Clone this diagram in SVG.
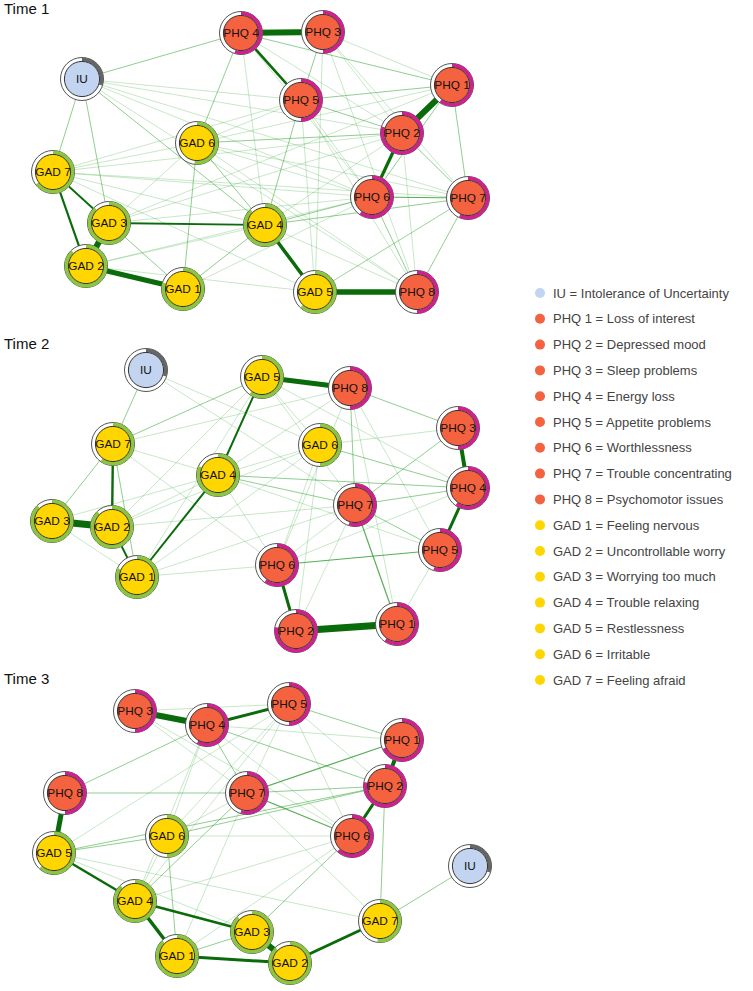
<svg xmlns="http://www.w3.org/2000/svg" width="753" height="991" viewBox="0 0 753 991">
<style>
.bg{fill:#fff}
.title{font-family:"Liberation Sans",Arial,sans-serif;font-size:15px;fill:#111}
.leg{font-family:"Liberation Sans",Arial,sans-serif;font-size:13px;fill:#444}
.node text{font-family:"Liberation Sans",Arial,sans-serif;font-size:11.8px;fill:#111;text-anchor:middle}
.o{fill:#fff;stroke:#555;stroke-width:1}
.p{fill:none;stroke-width:3.6;transform:rotate(-90deg)}
.pp{stroke:#d0208f}
.pg{stroke:#8cc63e}
.pi{stroke:#666}
.i{stroke:#333;stroke-width:1}
.phq{fill:#f4623f}
.gad{fill:#ffd600}
.iu{fill:#c2d4ef}
#edges line{stroke-linecap:butt}
.w1{stroke:#3aa83a;stroke-opacity:.28;stroke-width:1}
.w2{stroke:#35a535;stroke-opacity:.55;stroke-width:1}
.w3{stroke:#2a9a2a;stroke-opacity:.8;stroke-width:1.2}
.s{stroke:#0a6b0a}
</style>
<rect class="bg" width="753" height="991"/>
<text class="title" x="4" y="14">Time 1</text>
<text class="title" x="4" y="349">Time 2</text>
<text class="title" x="4" y="684">Time 3</text>

<g id="edges">
<!-- Time 1 -->
<g id="edges-t1">
<line class="w1" x1="82" y1="79" x2="301" y2="100"/>
<line class="w1" x1="82" y1="79" x2="402" y2="133"/>
<line class="w1" x1="82" y1="79" x2="468" y2="198"/>
<line class="w1" x1="82" y1="79" x2="372" y2="197"/>
<line class="w1" x1="82" y1="79" x2="417" y2="292"/>
<line class="w2" x1="82" y1="79" x2="265" y2="225"/>
<line class="w2" x1="82" y1="79" x2="109" y2="223"/>
<line class="w2" x1="82" y1="79" x2="53" y2="172"/>
<line class="w2" x1="82" y1="79" x2="241" y2="33"/>
<line class="w2" x1="241" y1="33" x2="197" y2="143"/>
<line class="w2" x1="241" y1="33" x2="452" y2="85"/>
<line class="w1" x1="241" y1="33" x2="265" y2="225"/>
<line class="w1" x1="241" y1="33" x2="372" y2="197"/>
<line class="w1" x1="241" y1="33" x2="402" y2="133"/>
<line class="w2" x1="323" y1="32" x2="301" y2="100"/>
<line class="w1" x1="323" y1="32" x2="452" y2="85"/>
<line class="w1" x1="323" y1="32" x2="468" y2="198"/>
<line class="w1" x1="323" y1="32" x2="417" y2="292"/>
<line class="w1" x1="323" y1="32" x2="315" y2="292"/>
<line class="w1" x1="323" y1="32" x2="402" y2="133"/>
<line class="w2" x1="301" y1="100" x2="452" y2="85"/>
<line class="w2" x1="301" y1="100" x2="402" y2="133"/>
<line class="w2" x1="301" y1="100" x2="265" y2="225"/>
<line class="w1" x1="301" y1="100" x2="372" y2="197"/>
<line class="w1" x1="301" y1="100" x2="417" y2="292"/>
<line class="w1" x1="301" y1="100" x2="197" y2="143"/>
<line class="w1" x1="301" y1="100" x2="53" y2="172"/>
<line class="w2" x1="452" y1="85" x2="468" y2="198"/>
<line class="w2" x1="452" y1="85" x2="372" y2="197"/>
<line class="w1" x1="452" y1="85" x2="197" y2="143"/>
<line class="w2" x1="402" y1="133" x2="468" y2="198"/>
<line class="w2" x1="402" y1="133" x2="197" y2="143"/>
<line class="w1" x1="402" y1="133" x2="265" y2="225"/>
<line class="w1" x1="402" y1="133" x2="53" y2="172"/>
<line class="w1" x1="402" y1="133" x2="109" y2="223"/>
<line class="w1" x1="402" y1="133" x2="417" y2="292"/>
<line class="w3" x1="372" y1="197" x2="468" y2="198"/>
<line class="w2" x1="372" y1="197" x2="417" y2="292"/>
<line class="w1" x1="372" y1="197" x2="197" y2="143"/>
<line class="w1" x1="372" y1="197" x2="53" y2="172"/>
<line class="w2" x1="265" y1="225" x2="372" y2="197"/>
<line class="w2" x1="265" y1="225" x2="468" y2="198"/>
<line class="w2" x1="468" y1="198" x2="417" y2="292"/>
<line class="w1" x1="468" y1="198" x2="315" y2="292"/>
<line class="w1" x1="468" y1="198" x2="197" y2="143"/>
<line class="w1" x1="468" y1="198" x2="53" y2="172"/>
<line class="w2" x1="197" y1="143" x2="183" y2="289"/>
<line class="w2" x1="197" y1="143" x2="265" y2="225"/>
<line class="w1" x1="197" y1="143" x2="53" y2="172"/>
<line class="w1" x1="197" y1="143" x2="109" y2="223"/>
<line class="w1" x1="197" y1="143" x2="417" y2="292"/>
<line class="w1" x1="53" y1="172" x2="265" y2="225"/>
<line class="w1" x1="53" y1="172" x2="315" y2="292"/>
<line class="w1" x1="109" y1="223" x2="372" y2="197"/>
<line class="w1" x1="109" y1="223" x2="452" y2="85"/>
<line class="w2" x1="109" y1="223" x2="183" y2="289"/>
<line class="w1" x1="86" y1="266" x2="265" y2="225"/>
<line class="w1" x1="86" y1="266" x2="372" y2="197"/>
<line class="w1" x1="86" y1="266" x2="315" y2="292"/>
<line class="w2" x1="183" y1="289" x2="265" y2="225"/>
<line class="w1" x1="183" y1="289" x2="372" y2="197"/>
<line class="w1" x1="265" y1="225" x2="417" y2="292"/>
<line class="w1" x1="315" y1="292" x2="468" y2="198"/>
<line class="w1" x1="315" y1="292" x2="301" y2="100"/>
<line class="s" stroke-width="6" x1="241" y1="33" x2="323" y2="32"/>
<line class="s" stroke-width="6" x1="452" y1="85" x2="402" y2="133"/>
<line class="s" stroke-width="2.6" x1="241" y1="33" x2="301" y2="100"/>
<line class="s" stroke-width="3.2" x1="402" y1="133" x2="372" y2="197"/>
<line class="s" stroke-width="2.2" x1="53" y1="172" x2="86" y2="266"/>
<line class="s" stroke-width="1.8" x1="53" y1="172" x2="109" y2="223"/>
<line class="s" stroke-width="6" x1="109" y1="223" x2="86" y2="266"/>
<line class="s" stroke-width="5" x1="86" y1="266" x2="183" y2="289"/>
<line class="s" stroke-width="1.8" x1="109" y1="223" x2="265" y2="225"/>
<line class="s" stroke-width="3.5" x1="265" y1="225" x2="315" y2="292"/>
<line class="s" stroke-width="5.5" x1="315" y1="292" x2="417" y2="292"/>
</g>
<!-- Time 2 -->
<g id="edges-t2">
<line class="w2" x1="146" y1="370" x2="113" y2="444"/>
<line class="w1" x1="146" y1="370" x2="320" y2="445"/>
<line class="w1" x1="146" y1="370" x2="355" y2="505"/>
<line class="w2" x1="113" y1="444" x2="262" y2="377"/>
<line class="w1" x1="113" y1="444" x2="350" y2="388"/>
<line class="w2" x1="113" y1="444" x2="52" y2="521"/>
<line class="w2" x1="113" y1="444" x2="137" y2="577"/>
<line class="w1" x1="113" y1="444" x2="218" y2="475"/>
<line class="w1" x1="113" y1="444" x2="277" y2="565"/>
<line class="w1" x1="262" y1="377" x2="320" y2="445"/>
<line class="w1" x1="262" y1="377" x2="355" y2="505"/>
<line class="w1" x1="262" y1="377" x2="112" y2="527"/>
<line class="w1" x1="262" y1="377" x2="137" y2="577"/>
<line class="w1" x1="262" y1="377" x2="468" y2="488"/>
<line class="w2" x1="350" y1="388" x2="458" y2="428"/>
<line class="w2" x1="350" y1="388" x2="355" y2="505"/>
<line class="w1" x1="350" y1="388" x2="397" y2="624"/>
<line class="w1" x1="350" y1="388" x2="440" y2="550"/>
<line class="w1" x1="350" y1="388" x2="277" y2="565"/>
<line class="w1" x1="350" y1="388" x2="218" y2="475"/>
<line class="w2" x1="320" y1="445" x2="468" y2="488"/>
<line class="w1" x1="320" y1="445" x2="458" y2="428"/>
<line class="w1" x1="320" y1="445" x2="218" y2="475"/>
<line class="w1" x1="320" y1="445" x2="277" y2="565"/>
<line class="w1" x1="320" y1="445" x2="296" y2="631"/>
<line class="w1" x1="320" y1="445" x2="112" y2="527"/>
<line class="w1" x1="320" y1="445" x2="137" y2="577"/>
<line class="w2" x1="458" y1="428" x2="355" y2="505"/>
<line class="w2" x1="218" y1="475" x2="355" y2="505"/>
<line class="w2" x1="218" y1="475" x2="468" y2="488"/>
<line class="w1" x1="218" y1="475" x2="52" y2="521"/>
<line class="w1" x1="218" y1="475" x2="112" y2="527"/>
<line class="w1" x1="218" y1="475" x2="277" y2="565"/>
<line class="w1" x1="218" y1="475" x2="440" y2="550"/>
<line class="w2" x1="355" y1="505" x2="468" y2="488"/>
<line class="w2" x1="355" y1="505" x2="440" y2="550"/>
<line class="w3" x1="355" y1="505" x2="397" y2="624"/>
<line class="w1" x1="355" y1="505" x2="296" y2="631"/>
<line class="w1" x1="355" y1="505" x2="277" y2="565"/>
<line class="w3" x1="277" y1="565" x2="440" y2="550"/>
<line class="w1" x1="277" y1="565" x2="468" y2="488"/>
<line class="w1" x1="112" y1="527" x2="355" y2="505"/>
<line class="w1" x1="137" y1="577" x2="355" y2="505"/>
<line class="w1" x1="52" y1="521" x2="137" y2="577"/>
<line class="w1" x1="440" y1="550" x2="397" y2="624"/>
<line class="w1" x1="137" y1="577" x2="277" y2="565"/>
<line class="s" stroke-width="5" x1="262" y1="377" x2="350" y2="388"/>
<line class="s" stroke-width="7" x1="52" y1="521" x2="112" y2="527"/>
<line class="s" stroke-width="2.4" x1="113" y1="444" x2="112" y2="527"/>
<line class="s" stroke-width="2" x1="262" y1="377" x2="218" y2="475"/>
<line class="s" stroke-width="2" x1="218" y1="475" x2="137" y2="577"/>
<line class="s" stroke-width="2" x1="112" y1="527" x2="137" y2="577"/>
<line class="s" stroke-width="4" x1="458" y1="428" x2="468" y2="488"/>
<line class="s" stroke-width="3" x1="468" y1="488" x2="440" y2="550"/>
<line class="s" stroke-width="3" x1="277" y1="565" x2="296" y2="631"/>
<line class="s" stroke-width="7" x1="296" y1="631" x2="397" y2="624"/>
</g>
<!-- Time 3 -->
<g id="edges-t3">
<line class="w1" x1="135" y1="711" x2="289" y2="704"/>
<line class="w1" x1="135" y1="711" x2="247" y2="793"/>
<line class="w1" x1="135" y1="711" x2="352" y2="836"/>
<line class="w2" x1="207" y1="725" x2="65" y2="793"/>
<line class="w2" x1="207" y1="725" x2="247" y2="793"/>
<line class="w2" x1="207" y1="725" x2="385" y2="786"/>
<line class="w1" x1="207" y1="725" x2="402" y2="740"/>
<line class="w1" x1="207" y1="725" x2="167" y2="836"/>
<line class="w1" x1="207" y1="725" x2="135" y2="901"/>
<line class="w1" x1="207" y1="725" x2="352" y2="836"/>
<line class="w2" x1="289" y1="704" x2="402" y2="740"/>
<line class="w1" x1="289" y1="704" x2="385" y2="786"/>
<line class="w1" x1="289" y1="704" x2="352" y2="836"/>
<line class="w1" x1="289" y1="704" x2="167" y2="836"/>
<line class="w1" x1="289" y1="704" x2="135" y2="901"/>
<line class="w1" x1="289" y1="704" x2="247" y2="793"/>
<line class="w2" x1="65" y1="793" x2="247" y2="793"/>
<line class="w3" x1="247" y1="793" x2="402" y2="740"/>
<line class="w2" x1="247" y1="793" x2="385" y2="786"/>
<line class="w3" x1="247" y1="793" x2="352" y2="836"/>
<line class="w1" x1="247" y1="793" x2="380" y2="921"/>
<line class="w1" x1="247" y1="793" x2="167" y2="836"/>
<line class="w2" x1="247" y1="793" x2="135" y2="901"/>
<line class="w2" x1="385" y1="786" x2="380" y2="921"/>
<line class="w2" x1="167" y1="836" x2="54" y2="853"/>
<line class="w2" x1="167" y1="836" x2="385" y2="786"/>
<line class="w1" x1="167" y1="836" x2="352" y2="836"/>
<line class="w2" x1="167" y1="836" x2="177" y2="956"/>
<line class="w1" x1="167" y1="836" x2="135" y2="901"/>
<line class="w1" x1="54" y1="853" x2="289" y2="704"/>
<line class="w1" x1="54" y1="853" x2="252" y2="932"/>
<line class="w2" x1="54" y1="853" x2="385" y2="786"/>
<line class="w1" x1="135" y1="901" x2="352" y2="836"/>
<line class="w2" x1="252" y1="932" x2="352" y2="836"/>
<line class="w1" x1="177" y1="956" x2="352" y2="836"/>
<line class="w2" x1="177" y1="956" x2="252" y2="932"/>
<line class="w1" x1="177" y1="956" x2="247" y2="793"/>
<line class="w2" x1="380" y1="921" x2="470" y2="866"/>
<line class="w1" x1="380" y1="921" x2="54" y2="853"/>
<line class="s" stroke-width="6" x1="135" y1="711" x2="207" y2="725"/>
<line class="s" stroke-width="3" x1="207" y1="725" x2="289" y2="704"/>
<line class="s" stroke-width="4" x1="402" y1="740" x2="385" y2="786"/>
<line class="s" stroke-width="3" x1="385" y1="786" x2="352" y2="836"/>
<line class="s" stroke-width="5" x1="65" y1="793" x2="54" y2="853"/>
<line class="s" stroke-width="2.5" x1="54" y1="853" x2="135" y2="901"/>
<line class="s" stroke-width="3.5" x1="135" y1="901" x2="177" y2="956"/>
<line class="s" stroke-width="2.5" x1="135" y1="901" x2="252" y2="932"/>
<line class="s" stroke-width="6" x1="252" y1="932" x2="290" y2="963"/>
<line class="s" stroke-width="3" x1="177" y1="956" x2="290" y2="963"/>
<line class="s" stroke-width="3" x1="290" y1="963" x2="380" y2="921"/>
</g>
</g>

<!-- Time 1 nodes -->
<g id="t1-iu" class="node" transform="translate(82,79)"><circle class="o" r="21.5"/><circle class="p pi" r="19.6" pathLength="100" stroke-dasharray="30 100"/><circle class="i iu" r="17.6"/><text y="4.2">IU</text></g>
<g id="t1-phq4" class="node" transform="translate(241,33)"><circle class="o" r="21.5"/><circle class="p pp" r="19.6" pathLength="100" stroke-dasharray="55 100"/><circle class="i phq" r="17.6"/><text y="4.2">PHQ 4</text></g>
<g id="t1-phq3" class="node" transform="translate(323,32)"><circle class="o" r="21.5"/><circle class="p pp" r="19.6" pathLength="100" stroke-dasharray="50 100"/><circle class="i phq" r="17.6"/><text y="4.2">PHQ 3</text></g>
<g id="t1-phq1" class="node" transform="translate(452,85)"><circle class="o" r="21.5"/><circle class="p pp" r="19.6" pathLength="100" stroke-dasharray="60 100"/><circle class="i phq" r="17.6"/><text y="4.2">PHQ 1</text></g>
<g id="t1-phq5" class="node" transform="translate(301,100)"><circle class="o" r="21.5"/><circle class="p pp" r="19.6" pathLength="100" stroke-dasharray="50 100"/><circle class="i phq" r="17.6"/><text y="4.2">PHQ 5</text></g>
<g id="t1-phq2" class="node" transform="translate(402,133)"><circle class="o" r="21.5"/><circle class="p pp" r="19.6" pathLength="100" stroke-dasharray="80 100"/><circle class="i phq" r="17.6"/><text y="4.2">PHQ 2</text></g>
<g id="t1-gad6" class="node" transform="translate(197,143)"><circle class="o" r="21.5"/><circle class="p pg" r="19.6" pathLength="100" stroke-dasharray="52 100"/><circle class="i gad" r="17.6"/><text y="4.2">GAD 6</text></g>
<g id="t1-gad7" class="node" transform="translate(53,172)"><circle class="o" r="21.5"/><circle class="p pg" r="19.6" pathLength="100" stroke-dasharray="65 100"/><circle class="i gad" r="17.6"/><text y="4.2">GAD 7</text></g>
<g id="t1-gad3" class="node" transform="translate(109,223)"><circle class="o" r="21.5"/><circle class="p pg" r="19.6" pathLength="100" stroke-dasharray="88 100"/><circle class="i gad" r="17.6"/><text y="4.2">GAD 3</text></g>
<g id="t1-gad2" class="node" transform="translate(86,266)"><circle class="o" r="21.5"/><circle class="p pg" r="19.6" pathLength="100" stroke-dasharray="88 100"/><circle class="i gad" r="17.6"/><text y="4.2">GAD 2</text></g>
<g id="t1-gad1" class="node" transform="translate(183,289)"><circle class="o" r="21.5"/><circle class="p pg" r="19.6" pathLength="100" stroke-dasharray="80 100"/><circle class="i gad" r="17.6"/><text y="4.2">GAD 1</text></g>
<g id="t1-gad4" class="node" transform="translate(265,225)"><circle class="o" r="21.5"/><circle class="p pg" r="19.6" pathLength="100" stroke-dasharray="88 100"/><circle class="i gad" r="17.6"/><text y="4.2">GAD 4</text></g>
<g id="t1-phq6" class="node" transform="translate(372,197)"><circle class="o" r="21.5"/><circle class="p pp" r="19.6" pathLength="100" stroke-dasharray="60 100"/><circle class="i phq" r="17.6"/><text y="4.2">PHQ 6</text></g>
<g id="t1-phq7" class="node" transform="translate(468,198)"><circle class="o" r="21.5"/><circle class="p pp" r="19.6" pathLength="100" stroke-dasharray="57 100"/><circle class="i phq" r="17.6"/><text y="4.2">PHQ 7</text></g>
<g id="t1-gad5" class="node" transform="translate(315,292)"><circle class="o" r="21.5"/><circle class="p pg" r="19.6" pathLength="100" stroke-dasharray="62 100"/><circle class="i gad" r="17.6"/><text y="4.2">GAD 5</text></g>
<g id="t1-phq8" class="node" transform="translate(417,292)"><circle class="o" r="21.5"/><circle class="p pp" r="19.6" pathLength="100" stroke-dasharray="50 100"/><circle class="i phq" r="17.6"/><text y="4.2">PHQ 8</text></g>

<!-- Time 2 nodes -->
<g id="t2-iu" class="node" transform="translate(146,370)"><circle class="o" r="21.5"/><circle class="p pi" r="19.6" pathLength="100" stroke-dasharray="30 100"/><circle class="i iu" r="17.6"/><text y="4.2">IU</text></g>
<g id="t2-gad7" class="node" transform="translate(113,444)"><circle class="o" r="21.5"/><circle class="p pg" r="19.6" pathLength="100" stroke-dasharray="60 100"/><circle class="i gad" r="17.6"/><text y="4.2">GAD 7</text></g>
<g id="t2-gad5" class="node" transform="translate(262,377)"><circle class="o" r="21.5"/><circle class="p pg" r="19.6" pathLength="100" stroke-dasharray="60 100"/><circle class="i gad" r="17.6"/><text y="4.2">GAD 5</text></g>
<g id="t2-phq8" class="node" transform="translate(350,388)"><circle class="o" r="21.5"/><circle class="p pp" r="19.6" pathLength="100" stroke-dasharray="50 100"/><circle class="i phq" r="17.6"/><text y="4.2">PHQ 8</text></g>
<g id="t2-gad6" class="node" transform="translate(320,445)"><circle class="o" r="21.5"/><circle class="p pg" r="19.6" pathLength="100" stroke-dasharray="50 100"/><circle class="i gad" r="17.6"/><text y="4.2">GAD 6</text></g>
<g id="t2-gad4" class="node" transform="translate(218,475)"><circle class="o" r="21.5"/><circle class="p pg" r="19.6" pathLength="100" stroke-dasharray="82 100"/><circle class="i gad" r="17.6"/><text y="4.2">GAD 4</text></g>
<g id="t2-phq3" class="node" transform="translate(458,428)"><circle class="o" r="21.5"/><circle class="p pp" r="19.6" pathLength="100" stroke-dasharray="50 100"/><circle class="i phq" r="17.6"/><text y="4.2">PHQ 3</text></g>
<g id="t2-phq4" class="node" transform="translate(468,488)"><circle class="o" r="21.5"/><circle class="p pp" r="19.6" pathLength="100" stroke-dasharray="60 100"/><circle class="i phq" r="17.6"/><text y="4.2">PHQ 4</text></g>
<g id="t2-gad3" class="node" transform="translate(52,521)"><circle class="o" r="21.5"/><circle class="p pg" r="19.6" pathLength="100" stroke-dasharray="88 100"/><circle class="i gad" r="17.6"/><text y="4.2">GAD 3</text></g>
<g id="t2-gad2" class="node" transform="translate(112,527)"><circle class="o" r="21.5"/><circle class="p pg" r="19.6" pathLength="100" stroke-dasharray="88 100"/><circle class="i gad" r="17.6"/><text y="4.2">GAD 2</text></g>
<g id="t2-gad1" class="node" transform="translate(137,577)"><circle class="o" r="21.5"/><circle class="p pg" r="19.6" pathLength="100" stroke-dasharray="82 100"/><circle class="i gad" r="17.6"/><text y="4.2">GAD 1</text></g>
<g id="t2-phq7" class="node" transform="translate(355,505)"><circle class="o" r="21.5"/><circle class="p pp" r="19.6" pathLength="100" stroke-dasharray="55 100"/><circle class="i phq" r="17.6"/><text y="4.2">PHQ 7</text></g>
<g id="t2-phq6" class="node" transform="translate(277,565)"><circle class="o" r="21.5"/><circle class="p pp" r="19.6" pathLength="100" stroke-dasharray="60 100"/><circle class="i phq" r="17.6"/><text y="4.2">PHQ 6</text></g>
<g id="t2-phq5" class="node" transform="translate(440,550)"><circle class="o" r="21.5"/><circle class="p pp" r="19.6" pathLength="100" stroke-dasharray="55 100"/><circle class="i phq" r="17.6"/><text y="4.2">PHQ 5</text></g>
<g id="t2-phq2" class="node" transform="translate(296,631)"><circle class="o" r="21.5"/><circle class="p pp" r="19.6" pathLength="100" stroke-dasharray="78 100"/><circle class="i phq" r="17.6"/><text y="4.2">PHQ 2</text></g>
<g id="t2-phq1" class="node" transform="translate(397,624)"><circle class="o" r="21.5"/><circle class="p pp" r="19.6" pathLength="100" stroke-dasharray="60 100"/><circle class="i phq" r="17.6"/><text y="4.2">PHQ 1</text></g>

<!-- Time 3 nodes -->
<g id="t3-phq3" class="node" transform="translate(135,711)"><circle class="o" r="21.5"/><circle class="p pp" r="19.6" pathLength="100" stroke-dasharray="50 100"/><circle class="i phq" r="17.6"/><text y="4.2">PHQ 3</text></g>
<g id="t3-phq4" class="node" transform="translate(207,725)"><circle class="o" r="21.5"/><circle class="p pp" r="19.6" pathLength="100" stroke-dasharray="58 100"/><circle class="i phq" r="17.6"/><text y="4.2">PHQ 4</text></g>
<g id="t3-phq5" class="node" transform="translate(289,704)"><circle class="o" r="21.5"/><circle class="p pp" r="19.6" pathLength="100" stroke-dasharray="50 100"/><circle class="i phq" r="17.6"/><text y="4.2">PHQ 5</text></g>
<g id="t3-phq1" class="node" transform="translate(402,740)"><circle class="o" r="21.5"/><circle class="p pp" r="19.6" pathLength="100" stroke-dasharray="68 100"/><circle class="i phq" r="17.6"/><text y="4.2">PHQ 1</text></g>
<g id="t3-phq2" class="node" transform="translate(385,786)"><circle class="o" r="21.5"/><circle class="p pp" r="19.6" pathLength="100" stroke-dasharray="78 100"/><circle class="i phq" r="17.6"/><text y="4.2">PHQ 2</text></g>
<g id="t3-phq8" class="node" transform="translate(65,793)"><circle class="o" r="21.5"/><circle class="p pp" r="19.6" pathLength="100" stroke-dasharray="50 100"/><circle class="i phq" r="17.6"/><text y="4.2">PHQ 8</text></g>
<g id="t3-phq7" class="node" transform="translate(247,793)"><circle class="o" r="21.5"/><circle class="p pp" r="19.6" pathLength="100" stroke-dasharray="55 100"/><circle class="i phq" r="17.6"/><text y="4.2">PHQ 7</text></g>
<g id="t3-phq6" class="node" transform="translate(352,836)"><circle class="o" r="21.5"/><circle class="p pp" r="19.6" pathLength="100" stroke-dasharray="62 100"/><circle class="i phq" r="17.6"/><text y="4.2">PHQ 6</text></g>
<g id="t3-iu" class="node" transform="translate(470,866)"><circle class="o" r="21.5"/><circle class="p pi" r="19.6" pathLength="100" stroke-dasharray="30 100"/><circle class="i iu" r="17.6"/><text y="4.2">IU</text></g>
<g id="t3-gad6" class="node" transform="translate(167,836)"><circle class="o" r="21.5"/><circle class="p pg" r="19.6" pathLength="100" stroke-dasharray="50 100"/><circle class="i gad" r="17.6"/><text y="4.2">GAD 6</text></g>
<g id="t3-gad5" class="node" transform="translate(54,853)"><circle class="o" r="21.5"/><circle class="p pg" r="19.6" pathLength="100" stroke-dasharray="62 100"/><circle class="i gad" r="17.6"/><text y="4.2">GAD 5</text></g>
<g id="t3-gad4" class="node" transform="translate(135,901)"><circle class="o" r="21.5"/><circle class="p pg" r="19.6" pathLength="100" stroke-dasharray="88 100"/><circle class="i gad" r="17.6"/><text y="4.2">GAD 4</text></g>
<g id="t3-gad3" class="node" transform="translate(252,932)"><circle class="o" r="21.5"/><circle class="p pg" r="19.6" pathLength="100" stroke-dasharray="88 100"/><circle class="i gad" r="17.6"/><text y="4.2">GAD 3</text></g>
<g id="t3-gad1" class="node" transform="translate(177,956)"><circle class="o" r="21.5"/><circle class="p pg" r="19.6" pathLength="100" stroke-dasharray="88 100"/><circle class="i gad" r="17.6"/><text y="4.2">GAD 1</text></g>
<g id="t3-gad2" class="node" transform="translate(290,963)"><circle class="o" r="21.5"/><circle class="p pg" r="19.6" pathLength="100" stroke-dasharray="88 100"/><circle class="i gad" r="17.6"/><text y="4.2">GAD 2</text></g>
<g id="t3-gad7" class="node" transform="translate(380,921)"><circle class="o" r="21.5"/><circle class="p pg" r="19.6" pathLength="100" stroke-dasharray="52 100"/><circle class="i gad" r="17.6"/><text y="4.2">GAD 7</text></g>

<!-- Legend -->
<g id="legend">
<circle cx="540" cy="293" r="5" class="iu"/><text class="leg" x="553" y="297.5">IU = Intolerance of Uncertainty</text>
<circle cx="540" cy="318.8" r="5" class="phq"/><text class="leg" x="553" y="323.3">PHQ 1 = Loss of interest</text>
<circle cx="540" cy="344.6" r="5" class="phq"/><text class="leg" x="553" y="349.1">PHQ 2 = Depressed mood</text>
<circle cx="540" cy="370.4" r="5" class="phq"/><text class="leg" x="553" y="374.9">PHQ 3 = Sleep problems</text>
<circle cx="540" cy="396.2" r="5" class="phq"/><text class="leg" x="553" y="400.7">PHQ 4 = Energy loss</text>
<circle cx="540" cy="422" r="5" class="phq"/><text class="leg" x="553" y="426.5">PHQ 5 = Appetite problems</text>
<circle cx="540" cy="447.8" r="5" class="phq"/><text class="leg" x="553" y="452.3">PHQ 6 = Worthlessness</text>
<circle cx="540" cy="473.6" r="5" class="phq"/><text class="leg" x="553" y="478.1">PHQ 7 = Trouble concentrating</text>
<circle cx="540" cy="499.4" r="5" class="phq"/><text class="leg" x="553" y="503.9">PHQ 8 = Psychomotor issues</text>
<circle cx="540" cy="525.2" r="5" class="gad"/><text class="leg" x="553" y="529.7">GAD 1 = Feeling nervous</text>
<circle cx="540" cy="551" r="5" class="gad"/><text class="leg" x="553" y="555.5">GAD 2 = Uncontrollable worry</text>
<circle cx="540" cy="576.8" r="5" class="gad"/><text class="leg" x="553" y="581.3">GAD 3 = Worrying too much</text>
<circle cx="540" cy="602.6" r="5" class="gad"/><text class="leg" x="553" y="607.1">GAD 4 = Trouble relaxing</text>
<circle cx="540" cy="628.4" r="5" class="gad"/><text class="leg" x="553" y="632.9">GAD 5 = Restlessness</text>
<circle cx="540" cy="654.2" r="5" class="gad"/><text class="leg" x="553" y="658.7">GAD 6 = Irritable</text>
<circle cx="540" cy="680" r="5" class="gad"/><text class="leg" x="553" y="684.5">GAD 7 = Feeling afraid</text>
</g>
</svg>
